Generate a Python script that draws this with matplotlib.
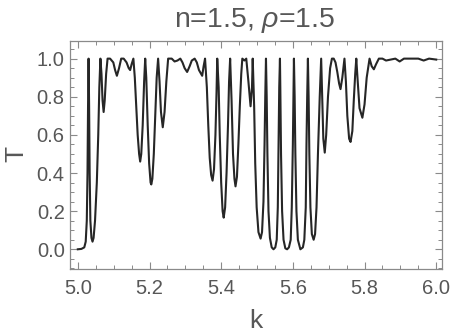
import matplotlib
matplotlib.use('Agg')
import matplotlib.pyplot as plt
from matplotlib.ticker import MultipleLocator

plt.rcParams['font.family'] = ['Liberation Sans', 'DejaVu Sans']
plt.rcParams['mathtext.fontset'] = 'custom'
plt.rcParams['mathtext.it'] = 'Liberation Sans:italic'
plt.rcParams['mathtext.rm'] = 'Liberation Sans'

# transmission curve (k, T)
k_vals = [5.000, 5.010, 5.018, 5.022, 5.025, 5.027, 5.0285, 5.030, 5.0315, 5.033,
          5.035, 5.038, 5.041, 5.044, 5.048, 5.053, 5.057, 5.060, 5.063, 5.066,
          5.069, 5.072, 5.075, 5.079, 5.083, 5.090, 5.099, 5.104, 5.109, 5.115,
          5.121, 5.128, 5.136, 5.142, 5.146, 5.150, 5.155, 5.159, 5.163, 5.167,
          5.171, 5.174, 5.177, 5.181, 5.185, 5.188, 5.191, 5.195, 5.199, 5.203,
          5.205, 5.208, 5.212, 5.216, 5.220, 5.224, 5.228, 5.232, 5.237, 5.242,
          5.247, 5.252, 5.262, 5.270, 5.278, 5.286, 5.292, 5.298, 5.305, 5.312,
          5.318, 5.326, 5.332, 5.338, 5.347, 5.351, 5.355, 5.360, 5.364, 5.368,
          5.372, 5.376, 5.380, 5.384, 5.387, 5.389, 5.393, 5.396, 5.400, 5.404,
          5.407, 5.411, 5.415, 5.419, 5.422, 5.425, 5.429, 5.433, 5.437, 5.440,
          5.444, 5.448, 5.452, 5.456, 5.459, 5.465, 5.470, 5.476, 5.482, 5.486,
          5.488, 5.492, 5.495, 5.499, 5.504, 5.510, 5.514, 5.518, 5.521, 5.523,
          5.525, 5.527, 5.529, 5.532, 5.536, 5.541, 5.546, 5.551, 5.555, 5.558,
          5.560, 5.562, 5.564, 5.565, 5.567, 5.570, 5.574, 5.579, 5.584, 5.589,
          5.594, 5.597, 5.600, 5.602, 5.603, 5.605, 5.607, 5.610, 5.614, 5.621,
          5.628, 5.632, 5.636, 5.638, 5.640, 5.642, 5.644, 5.646, 5.649, 5.653,
          5.658, 5.662, 5.666, 5.670, 5.675, 5.679, 5.682, 5.685, 5.689, 5.693,
          5.698, 5.704, 5.709, 5.714, 5.719, 5.724, 5.729, 5.733, 5.738, 5.744,
          5.748, 5.752, 5.757, 5.761, 5.766, 5.770, 5.774, 5.777, 5.781, 5.786,
          5.794, 5.800, 5.806, 5.814, 5.820, 5.826, 5.832, 5.840, 5.850, 5.860,
          5.873, 5.886, 5.898, 5.910, 5.930, 5.950, 5.965, 5.980, 6.000]
t_vals = [0.0, 0.002, 0.01, 0.04, 0.15, 0.4, 0.75, 1.0, 0.75, 0.4,
          0.15, 0.06, 0.04, 0.06, 0.15, 0.35, 0.6, 0.85, 1.0, 0.92,
          0.78, 0.72, 0.78, 0.92, 1.0, 1.0, 0.98, 0.94, 0.91, 0.95,
          1.0, 1.0, 0.98, 0.95, 0.94, 0.97, 1.0, 0.9, 0.75, 0.6,
          0.5, 0.46, 0.5, 0.65, 0.88, 1.0, 0.9, 0.65, 0.45, 0.35,
          0.34, 0.37, 0.5, 0.7, 0.9, 1.0, 0.88, 0.72, 0.64, 0.72,
          0.88, 1.0, 1.0, 0.985, 0.99, 1.0, 0.98, 0.95, 0.93, 0.96,
          0.99, 1.0, 0.98, 0.94, 0.91, 0.96, 1.0, 0.85, 0.65, 0.48,
          0.39, 0.36, 0.42, 0.6, 0.82, 1.0, 0.85, 0.6, 0.35, 0.2,
          0.166, 0.22, 0.4, 0.65, 0.88, 1.0, 0.78, 0.5, 0.37, 0.33,
          0.38, 0.55, 0.75, 0.92, 1.0, 0.99, 1.0, 0.88, 0.75, 0.85,
          1.0, 0.75, 0.45, 0.22, 0.09, 0.056, 0.09, 0.25, 0.55, 0.8,
          1.0, 0.8, 0.5, 0.2, 0.06, 0.01, 0.0, 0.01, 0.05, 0.22,
          0.55, 0.85, 1.0, 0.85, 0.5, 0.2, 0.05, 0.005, 0.0, 0.01,
          0.05, 0.22, 0.55, 0.85, 1.0, 0.8, 0.5, 0.2, 0.05, 0.0,
          0.01, 0.05, 0.22, 0.55, 0.8, 1.0, 0.8, 0.5, 0.22, 0.08,
          0.05, 0.08, 0.22, 0.5, 0.8, 1.0, 0.8, 0.58, 0.507, 0.6,
          0.8, 0.95, 1.0, 1.0, 0.98, 0.93, 0.87, 0.84, 0.9, 1.0,
          0.88, 0.7, 0.58, 0.563, 0.62, 0.78, 0.92, 1.0, 0.88, 0.74,
          0.69, 0.76, 0.9, 1.0, 0.96, 0.944, 0.97, 1.0, 1.0, 0.99,
          0.995, 1.0, 0.985, 1.0, 1.0, 1.0, 0.99, 1.0, 0.995]

title = 'n=1.5, $\\rho$=1.5'
frame_col = '#8a8a8a'
text_col = '#575757'

fig = plt.figure(figsize=(4.5, 3.36), dpi=100)
ax = fig.add_axes([70.3 / 450, 1 - 269.3 / 336, 372 / 450, 228.6 / 336])

ax.plot(k_vals, t_vals, color='#262626', lw=1.5)

ax.set_xlim(4.979, 6.017)
ax.set_ylim(-0.105, 1.094)
ax.xaxis.set_major_locator(MultipleLocator(0.2))
ax.xaxis.set_minor_locator(MultipleLocator(0.05))
ax.yaxis.set_major_locator(MultipleLocator(0.2))
ax.yaxis.set_minor_locator(MultipleLocator(0.05))
ax.xaxis.set_major_formatter(plt.FormatStrFormatter('%.1f'))
ax.yaxis.set_major_formatter(plt.FormatStrFormatter('%.1f'))

ax.tick_params(which='both', direction='in', top=True, right=True,
               color=frame_col, labelcolor=text_col, labelsize=14.5)
ax.tick_params(which='major', length=5, width=0.8)
ax.tick_params(axis='x', which='major', pad=7)
ax.tick_params(axis='y', which='major', pad=4)
ax.tick_params(which='minor', length=2.8, width=0.7)
for s in ax.spines.values():
    s.set_color(frame_col)
    s.set_linewidth(0.9)

# axis labels placed in figure pixels like the reference
fig.text(256 / 450, 1 - 328 / 336, 'k', ha='center', va='baseline',
         fontsize=19, color=text_col)
fig.text(16 / 450, 1 - 154 / 336, 'T', ha='center', va='center', rotation=90,
         fontsize=19, color=text_col)
fig.text(255 / 450, 1 - 26.7 / 336, title, ha='center', va='baseline',
         fontsize=20.5, color=text_col)

fig.savefig('out.png', dpi=100)
